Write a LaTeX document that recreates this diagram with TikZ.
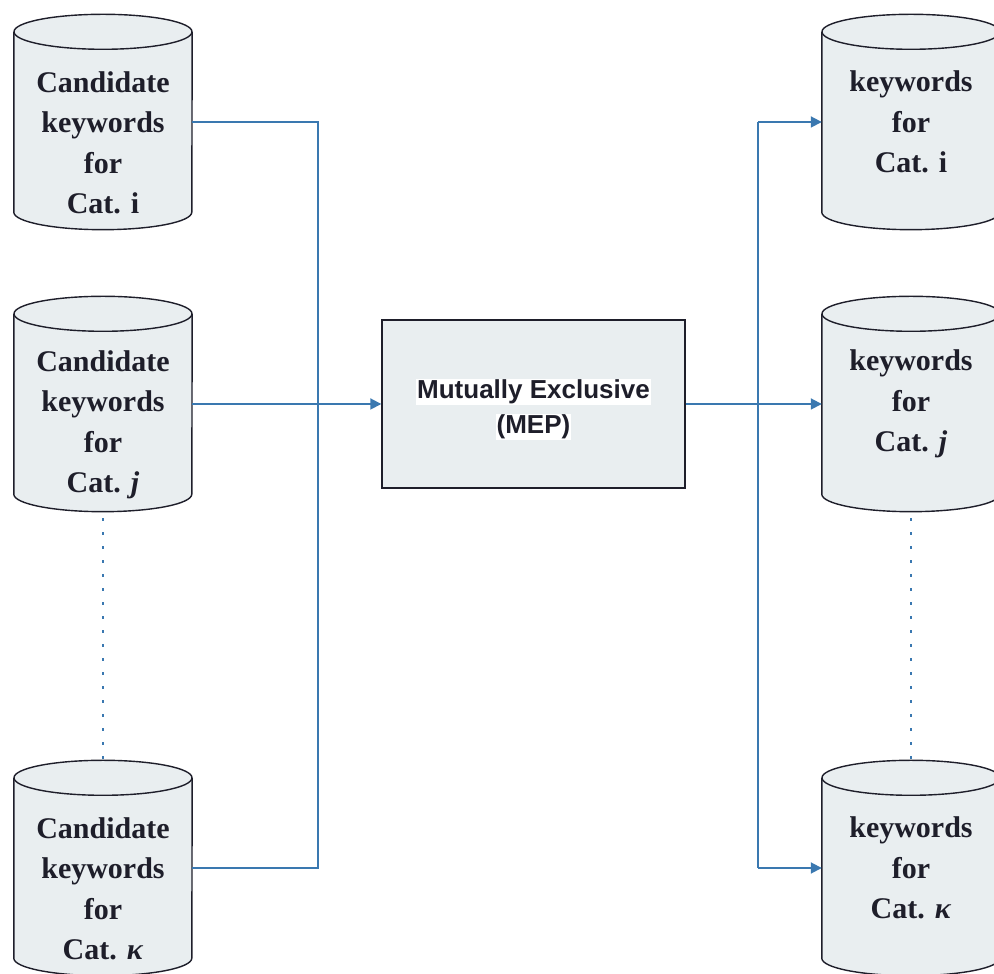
\documentclass[tikz,border=0pt]{standalone}
\usepackage{fontspec}
\setmainfont{Liberation Serif}
\newfontfamily\arialb{Liberation Sans}
\usetikzlibrary{arrows.meta,calc}
\definecolor{cylfill}{HTML}{E9EEF0}
\definecolor{linkblue}{HTML}{3A78B0}
\definecolor{inkc}{HTML}{1E1E2A}
\tikzset{
  body/.style={draw=none,minimum width=178pt,minimum height=180pt,inner sep=0pt},
  cyltext/.style={text=inkc,font=\fontsize{30}{40.5}\selectfont\bfseries,align=center,inner sep=0pt},
  conn/.style={draw=linkblue,line width=1.8pt},
  arr/.style={-{Triangle[length=11pt,width=11pt]}},
  dotline/.style={draw=linkblue,line width=2.5pt,dash pattern=on 2.5pt off 11.5pt},
  meptext/.style={fill=white,text=inkc,font=\arialb\fontsize{26}{32}\selectfont\bfseries,inner sep=1pt}
}
\newcommand\drawcyl[1]{%
  \fill[cylfill] (#1.north west) -- (#1.south west)
    arc[start angle=180,end angle=360,x radius=89pt,y radius=17.5pt]
    -- (#1.north east)
    arc[start angle=0,end angle=180,x radius=89pt,y radius=17.5pt] -- cycle;
  \draw[inkc,line width=1.4pt] (#1.north west) -- (#1.south west)
    arc[start angle=180,end angle=360,x radius=89pt,y radius=17.5pt]
    -- (#1.north east);
  \draw[inkc,line width=1.4pt,fill=cylfill] (#1.north) ellipse[x radius=89pt,y radius=17.5pt];
}
\begin{document}
\begin{tikzpicture}[x=1pt,y=1pt]
\useasboundingbox (0,0) rectangle (994,974);
% left cylinders
\node[body] (c1) at (103,852) {};
\node[body] (c2) at (103,570) {};
\node[body] (c3) at (103,106) {};
% right cylinders
\node[body] (d1) at (911,852) {};
\node[body] (d2) at (911,570) {};
\node[body] (d3) at (911,106) {};
\drawcyl{c1}\drawcyl{c2}\drawcyl{c3}
\drawcyl{d1}\drawcyl{d2}\drawcyl{d3}
\node[cyltext] (c1t) at ([yshift=-21pt]c1.center) {Candidate\\keywords\\for\\Cat. i};
\node[cyltext] (c2t) at ([yshift=-21pt]c2.center) {Candidate\\keywords\\for\\Cat. \textit{j}};
\node[cyltext] (c3t) at ([yshift=-21pt]c3.center) {Candidate\\keywords\\for\\Cat. \textit{κ}};
\node[cyltext] (d1t) at (d1.center) {keywords\\for\\Cat. i};
\node[cyltext] (d2t) at (d2.center) {keywords\\for\\Cat. \textit{j}};
\node[cyltext] (d3t) at (d3.center) {keywords\\for\\Cat. \textit{κ}};
% MEP box
\node[draw=inkc,fill=cylfill,line width=1.4pt,minimum width=303pt,minimum height=168pt,inner sep=0pt] (mep) at (533.5,570) {};
\node[meptext] (m1) at (533.5,582) {Mutually Exclusive};
\node[meptext] (m2) at (533.5,547) {(MEP)};
% junction coordinates
\coordinate (jx) at (318,0);
\coordinate (kx) at (758,0);
% left connectors
\draw[conn] (c1.east) -- (c1.east -| jx) -- (c3.east -| jx) -- (c3.east);
\draw[conn,arr] (c2.east) -- (mep.west);
% right connectors
\draw[conn,arr] (mep.east) -- (d2.west);
\draw[conn] (d1.west -| kx) -- (d3.west -| kx);
\draw[conn,arr] (d1.west -| kx) -- (d1.west);
\draw[conn,arr] (d3.west -| kx) -- (d3.west);
% dotted continuation
\draw[dotline] ([yshift=-24pt]c2.south) -- ([yshift=19pt]c3.north);
\draw[dotline] ([yshift=-24pt]d2.south) -- ([yshift=19pt]d3.north);
\end{tikzpicture}
\end{document}
